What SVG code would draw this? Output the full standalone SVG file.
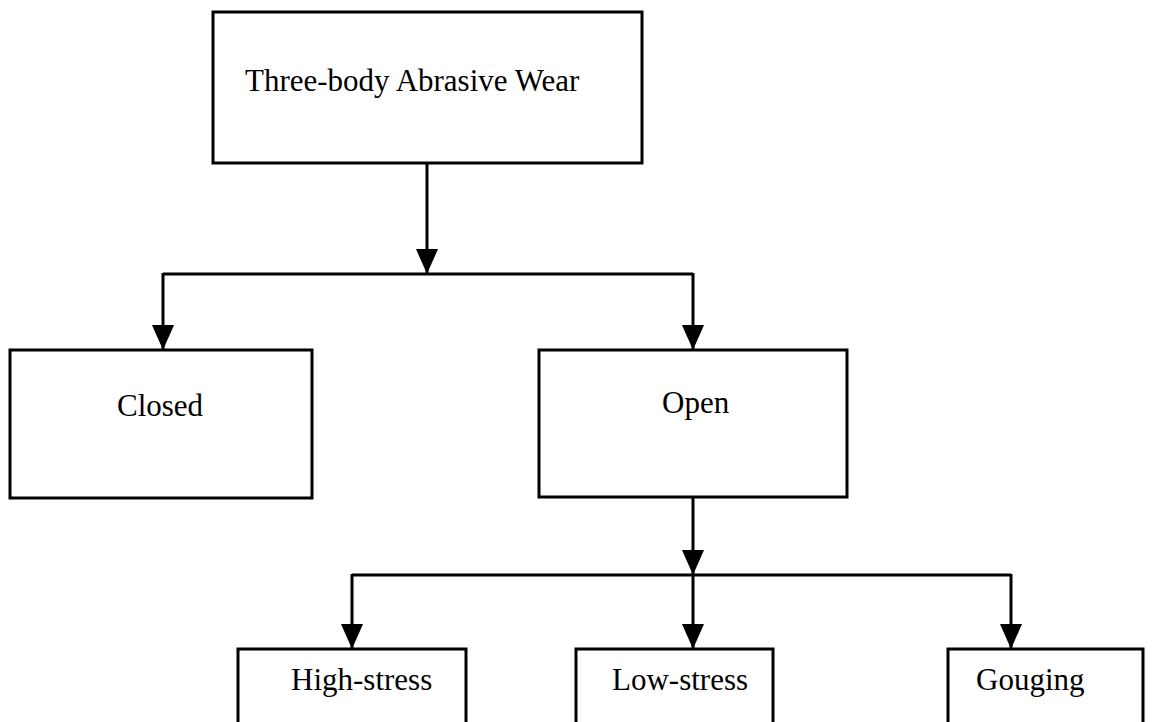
<svg xmlns="http://www.w3.org/2000/svg" width="1153" height="722" viewBox="0 0 1153 722">
  <style>
    .box { fill: #ffffff; stroke: #000000; stroke-width: 3; }
    .label { font-family: "Liberation Serif", "Times New Roman", serif; font-size: 31px; fill: #000000; }
    .wire { fill: none; stroke: #000000; stroke-width: 3; }
  </style>
  <defs>
    <marker id="head" viewBox="0 0 25 22" refX="25" refY="11" markerWidth="25" markerHeight="22" markerUnits="userSpaceOnUse" orient="auto">
      <path d="M0,0 L25,11 L0,22 z" fill="#000000"/>
    </marker>
  </defs>
  <rect width="1153" height="722" fill="#ffffff"/>

  <g id="connectors">
    <line class="wire" x1="427" y1="163" x2="427" y2="274" marker-end="url(#head)"/>
    <polyline class="wire" points="163,274 693,274"/>
    <line class="wire" x1="163" y1="273" x2="163" y2="350" marker-end="url(#head)"/>
    <line class="wire" x1="693" y1="273" x2="693" y2="350" marker-end="url(#head)"/>
    <line class="wire" x1="693" y1="497" x2="693" y2="575" marker-end="url(#head)"/>
    <polyline class="wire" points="352,575 1011,575"/>
    <line class="wire" x1="352" y1="574" x2="352" y2="649" marker-end="url(#head)"/>
    <line class="wire" x1="693" y1="574" x2="693" y2="649" marker-end="url(#head)"/>
    <line class="wire" x1="1011" y1="574" x2="1011" y2="649" marker-end="url(#head)"/>
  </g>

  <g id="node-root">
    <rect class="box" x="213" y="12" width="429" height="151"/>
    <text class="label" x="245" y="91">Three-body Abrasive Wear</text>
  </g>
  <g id="node-closed">
    <rect class="box" x="10" y="350" width="302" height="148"/>
    <text class="label" x="117" y="416">Closed</text>
  </g>
  <g id="node-open">
    <rect class="box" x="539" y="350" width="308" height="147"/>
    <text class="label" x="662" y="413">Open</text>
  </g>
  <g id="node-high-stress">
    <rect class="box" x="238" y="649" width="228" height="90"/>
    <text class="label" x="291" y="690">High-stress</text>
  </g>
  <g id="node-low-stress">
    <rect class="box" x="576" y="649" width="197" height="90"/>
    <text class="label" x="612" y="690">Low-stress</text>
  </g>
  <g id="node-gouging">
    <rect class="box" x="948" y="649" width="195" height="90"/>
    <text class="label" x="976" y="690">Gouging</text>
  </g>
</svg>
